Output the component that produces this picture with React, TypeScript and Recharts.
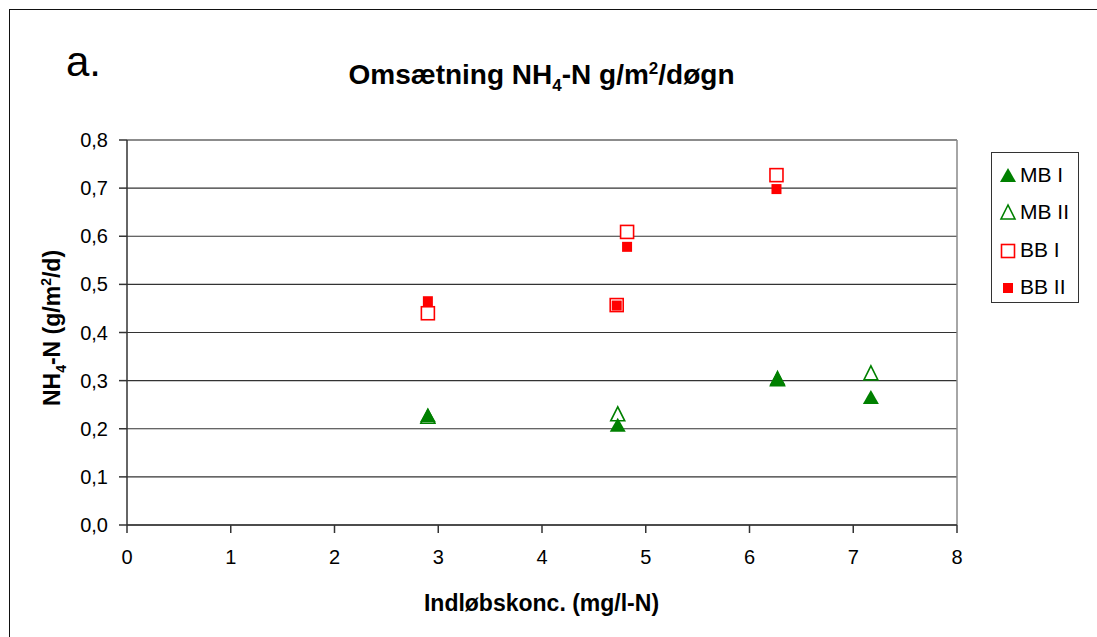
import React from "react";
import {
  ScatterChart,
  Scatter,
  XAxis,
  YAxis,
  CartesianGrid,
  ReferenceLine
} from "recharts";

// values (x = indløbskonc., y = NH4-N)
const mbI = [
  { x: 2.9, y: 0.226 },
  { x: 4.73, y: 0.206 },
  { x: 6.27, y: 0.303 },
  { x: 7.17, y: 0.264 }
];
const mbII = [
  { x: 2.9, y: 0.224 },
  { x: 4.73, y: 0.229 },
  { x: 6.27, y: 0.302 },
  { x: 7.17, y: 0.314 }
];
const bbI = [
  { x: 2.9, y: 0.44 },
  { x: 4.72, y: 0.457 },
  { x: 4.82, y: 0.609 },
  { x: 6.26, y: 0.727 }
];
const bbII = [
  { x: 2.9, y: 0.465 },
  { x: 4.72, y: 0.456 },
  { x: 4.82, y: 0.578 },
  { x: 6.26, y: 0.698 }
];

const xTicks = [0, 1, 2, 3, 4, 5, 6, 7, 8];
const yTicks = [0, 0.1, 0.2, 0.3, 0.4, 0.5, 0.6, 0.7, 0.8];

const GREEN = "#008000";
const RED = "#ff0000";
const FONT = "'Liberation Sans', Arial, sans-serif";

const FilledTriangle = (p: any) => (
  <polygon
    points={`${p.cx},${p.cy - 8} ${p.cx - 8},${p.cy + 6} ${p.cx + 8},${p.cy + 6}`}
    fill={GREEN}
  />
);
const OpenTriangle = (p: any) => (
  <polygon
    points={`${p.cx},${p.cy - 8} ${p.cx - 7},${p.cy + 6} ${p.cx + 7},${p.cy + 6}`}
    fill="none"
    stroke={GREEN}
    strokeWidth={1.6}
  />
);
const OpenSquare = (p: any) => (
  <rect x={p.cx - 6.5} y={p.cy - 6.5} width={13} height={13} fill="#fff" stroke={RED} strokeWidth={1.6} />
);
const FilledSquare = (p: any) => (
  <rect x={p.cx - 5} y={p.cy - 5} width={10} height={10} fill={RED} />
);

const legendItems = [
  { name: "MB I", shape: FilledTriangle },
  { name: "MB II", shape: OpenTriangle },
  { name: "BB I", shape: OpenSquare },
  { name: "BB II", shape: FilledSquare }
];

const LegendBox = () => (
  <div
    style={{
      position: "absolute",
      left: 991,
      top: 152,
      width: 88,
      height: 151,
      border: "1px solid #333",
      background: "#fff",
      boxSizing: "border-box",
      paddingTop: 3
    }}
  >
    {legendItems.map((it) => {
      const Shape = it.shape;
      return (
        <div key={it.name} style={{ display: "flex", alignItems: "center", height: 37.5 }}>
          <svg width={28} height={20}>
            <Shape cx={16} cy={11} />
          </svg>
          <span style={{ fontFamily: FONT, fontSize: 21, color: "#000" }}>{it.name}</span>
        </div>
      );
    })}
  </div>
);

export default function App() {
  const fmt = (v: number) => v.toFixed(1).replace(".", ",");
  return (
    <div style={{ position: "absolute", left: 0, top: 0, width: 1097, height: 637, background: "#fff", overflow: "hidden" }}>
      <div
        style={{
          position: "absolute",
          left: 9,
          top: 9,
          width: 1200,
          height: 700,
          borderLeft: "1.5px solid #111",
          borderTop: "1.5px solid #111"
        }}
      />
      <div style={{ position: "absolute", left: 66, top: 38, fontFamily: FONT, fontSize: 42, lineHeight: "48px" }}>a.</div>
      <div
        style={{
          position: "absolute",
          left: 0,
          width: 1083,
          top: 58,
          lineHeight: "34px",
          textAlign: "center",
          fontFamily: FONT,
          fontWeight: "bold",
          fontSize: 28
        }}
      >
        Omsætning NH<sub style={{ fontSize: 17, lineHeight: 0 }}>4</sub>-N g/m<sup style={{ fontSize: 17, lineHeight: 0 }}>2</sup>/døgn
      </div>
      <div
        style={{
          position: "absolute",
          left: 52,
          top: 328,
          transform: "translate(-50%, -50%) rotate(-90deg)",
          whiteSpace: "nowrap",
          lineHeight: "26px",
          fontFamily: FONT,
          fontWeight: "bold",
          fontSize: 23
        }}
      >
        NH<sub style={{ fontSize: 14, lineHeight: 0 }}>4</sub>-N (g/m<sup style={{ fontSize: 14, lineHeight: 0 }}>2</sup>/d)
      </div>
      <div
        style={{
          position: "absolute",
          left: 0,
          width: 1083,
          top: 589,
          lineHeight: "28px",
          textAlign: "center",
          fontFamily: FONT,
          fontWeight: "bold",
          fontSize: 23
        }}
      >
        Indløbskonc. (mg/l-N)
      </div>
      <ScatterChart
        width={1097}
        height={637}
        margin={{ top: 140, right: 140, bottom: 82, left: 67 }}
        style={{ position: "absolute", left: 0, top: 0 }}
      >
        <CartesianGrid horizontal vertical={false} stroke="#333" strokeWidth={1.2} />
        <XAxis
          type="number"
          dataKey="x"
          domain={[0, 8]}
          ticks={xTicks}
          interval={0}
          height={30}
          tickSize={8}
          tickMargin={17}
          stroke="#333"
          strokeWidth={1.5}
          tick={{ fill: "#000", fontSize: 20, fontFamily: FONT }}
        />
        <YAxis
          type="number"
          dataKey="y"
          domain={[0, 0.8]}
          ticks={yTicks}
          interval={0}
          width={60}
          tickSize={8}
          tickMargin={11}
          tickFormatter={fmt}
          stroke="#333"
          strokeWidth={1.5}
          tick={{ fill: "#000", fontSize: 20, fontFamily: FONT }}
        />
        <ReferenceLine x={8} stroke="#888" strokeWidth={1.5} />
        <ReferenceLine y={0.8} stroke="#888" strokeWidth={1.5} />
        <Scatter name="BB I" data={bbI} shape={OpenSquare} isAnimationActive={false} />
        <Scatter name="BB II" data={bbII} shape={FilledSquare} isAnimationActive={false} />
        <Scatter name="MB II" data={mbII} shape={OpenTriangle} isAnimationActive={false} />
        <Scatter name="MB I" data={mbI} shape={FilledTriangle} isAnimationActive={false} />
      </ScatterChart>
      <LegendBox />
    </div>
  );
}
